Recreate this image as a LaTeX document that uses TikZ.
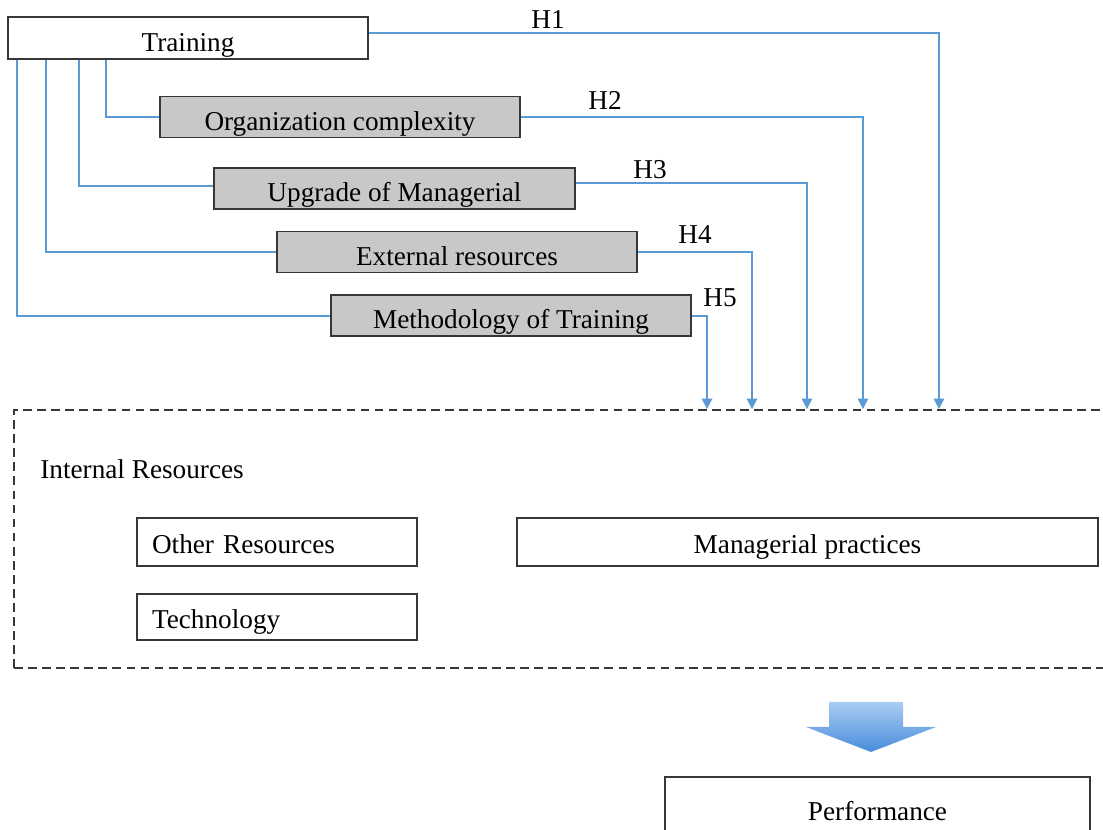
\documentclass[tikz,border=0pt]{standalone}
\usepackage{fontspec}
\setmainfont{Liberation Serif}
\usepackage{tikz}
\usetikzlibrary{arrows.meta, positioning, calc}
\definecolor{linkblue}{RGB}{91, 155, 213}
\definecolor{boxgray}{RGB}{200, 200, 200}
\definecolor{framegray}{RGB}{55, 55, 55}
\definecolor{arrowtop}{RGB}{170, 205, 243}
\definecolor{arrowbottom}{RGB}{72, 140, 218}

\begin{document}
\begin{tikzpicture}[
    x=0.02cm, y=-0.02cm,
    every node/.style={font=\fontsize{15.5}{18}\selectfont},
    box/.style={draw=framegray, line width=1.1pt, fill=white, inner sep=0pt, minimum width=7.2cm, minimum height=0.82cm, text height=15pt, text depth=0pt},
    graybox/.style={box, fill=boxgray},
    resbox/.style={box, text height=13pt},
    itembox/.style={draw=framegray, line width=1.1pt, inner xsep=0.3cm, inner ysep=0pt, text width=5cm, align=left, minimum height=0.95cm, text height=13pt, text depth=0pt},
    link/.style={draw=linkblue, line width=1pt},
    arrow/.style={link, -{Triangle[width=6pt, length=6pt]}},
    hlabel/.style={inner sep=0pt}
]
\clip (0,0) rectangle (1103,830);

% Drivers
\node[box, minimum height=0.84cm] (training) at (188,38) {Training};
\node[graybox] (org) at (340,117) {Organization complexity};
\node[graybox, minimum width=7.22cm] (upgrade) at (394.5,188.5) {Upgrade of Managerial};
\node[graybox] (external) at (457,252) {External resources};
\node[graybox] (method) at (511,315.5) {Methodology of Training};

% Internal Resources block
\node[draw=framegray, line width=1.1pt, dash pattern=on 5pt off 3pt, minimum width=21.92cm, minimum height=5.16cm] (internal) at (562,539) {};
\node[anchor=west, inner sep=0pt] (intlabel) at (40,469) {Internal Resources};
\node[itembox, minimum height=0.96cm] (other) at (277,542) {Other Resources};
\node[itembox, minimum height=0.92cm] (tech) at (277,617) {Technology};
\node[resbox, minimum width=11.62cm, minimum height=0.96cm] (practices) at (807.5,542) {Managerial practices};

% Outcome
\shade[top color=arrowtop, bottom color=arrowbottom] (829,702) -- (903,702) -- (903,727) -- (936,727) -- (871,752) -- (806,727) -- (829,727) -- cycle;
\node[resbox, minimum width=8.5cm, minimum height=1.28cm] (perf) at (877.5,809) {Performance};

% Training to moderators
\draw[link] ([xshift=1.98cm]training.south west) |- (org.west);
\draw[link] ([xshift=1.44cm]training.south west) |- ([yshift=0.05cm]upgrade.west);
\draw[link] ([xshift=0.78cm]training.south west) |- (external.west);
\draw[link] ([xshift=0.2cm]training.south west) |- ([yshift=-0.01cm]method.west);

% Hypotheses
\draw[arrow] ([yshift=0.1cm]training.east) -| ([xshift=18.52cm]internal.north west);
\draw[arrow] (org.east) -| ([xshift=17cm]internal.north west);
\draw[arrow] ([yshift=0.11cm]upgrade.east) -| ([xshift=15.88cm]internal.north west);
\draw[arrow] (external.east) -| ([xshift=14.78cm]internal.north west);
\draw[arrow] ([yshift=-0.01cm]method.east) -| ([xshift=13.88cm]internal.north west);

\node[hlabel] (h1) at (548,20) {H1};
\node[hlabel] (h2) at (605,100) {H2};
\node[hlabel] (h3) at (650,170) {H3};
\node[hlabel] (h4) at (695,235) {H4};
\node[hlabel] (h5) at (720,298) {H5};

\end{tikzpicture}
\end{document}
